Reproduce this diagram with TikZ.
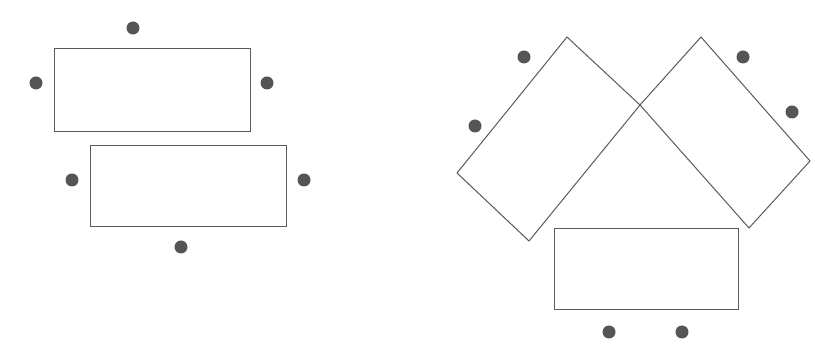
\documentclass[tikz,border=0pt]{standalone}
\usepackage{tikz}
\usetikzlibrary{positioning}

\definecolor{linegray}{RGB}{90,90,90}
\definecolor{dotgray}{RGB}{85,85,85}

\begin{document}
\begin{tikzpicture}[
  x=1pt, y=-1pt,
  box/.style={draw=linegray, line width=1pt},
  dot/.style={circle, fill=dotgray, inner sep=0pt, minimum size=13pt}
]
\useasboundingbox (0,0) rectangle (815,344);

% Left pair
\draw[box] (54,49) rectangle (250,132);
\draw[box] (90,146) rectangle (286,227);
\node[dot] (ltop)   at (133,28)  {};
\node[dot] (lwest)  at (36,83)   {};
\node[dot] (least)  at (267,83)  {};
\node[dot] (lwest2) at (72,180)  {};
\node[dot] (least2) at (304,180) {};
\node[dot] (lbot)   at (181,247) {};

% Right group: crossed boxes
\coordinate (mid) at (640,105);
\coordinate (atop) at (567,37);
\coordinate (aleft) at (457,173);
\coordinate (abot) at (529,241);
\coordinate (btop) at (701,37);
\coordinate (bright) at (810,161);
\coordinate (bbot) at (749,228);
\draw[box] (atop) -- (mid) -- (abot) -- (aleft) -- cycle;
\draw[box] (mid) -- (btop) -- (bright) -- (bbot) -- cycle;
\draw[box] (554,229) rectangle (738,310);
\node[dot] (ra1) at (524,57)  {};
\node[dot] (ra2) at (475,126) {};
\node[dot] (rb1) at (743,57)  {};
\node[dot] (rb2) at (792,112) {};
\node[dot] (rc1) at (609,332) {};
\node[dot] (rc2) at (682,332) {};

\end{tikzpicture}
\end{document}
